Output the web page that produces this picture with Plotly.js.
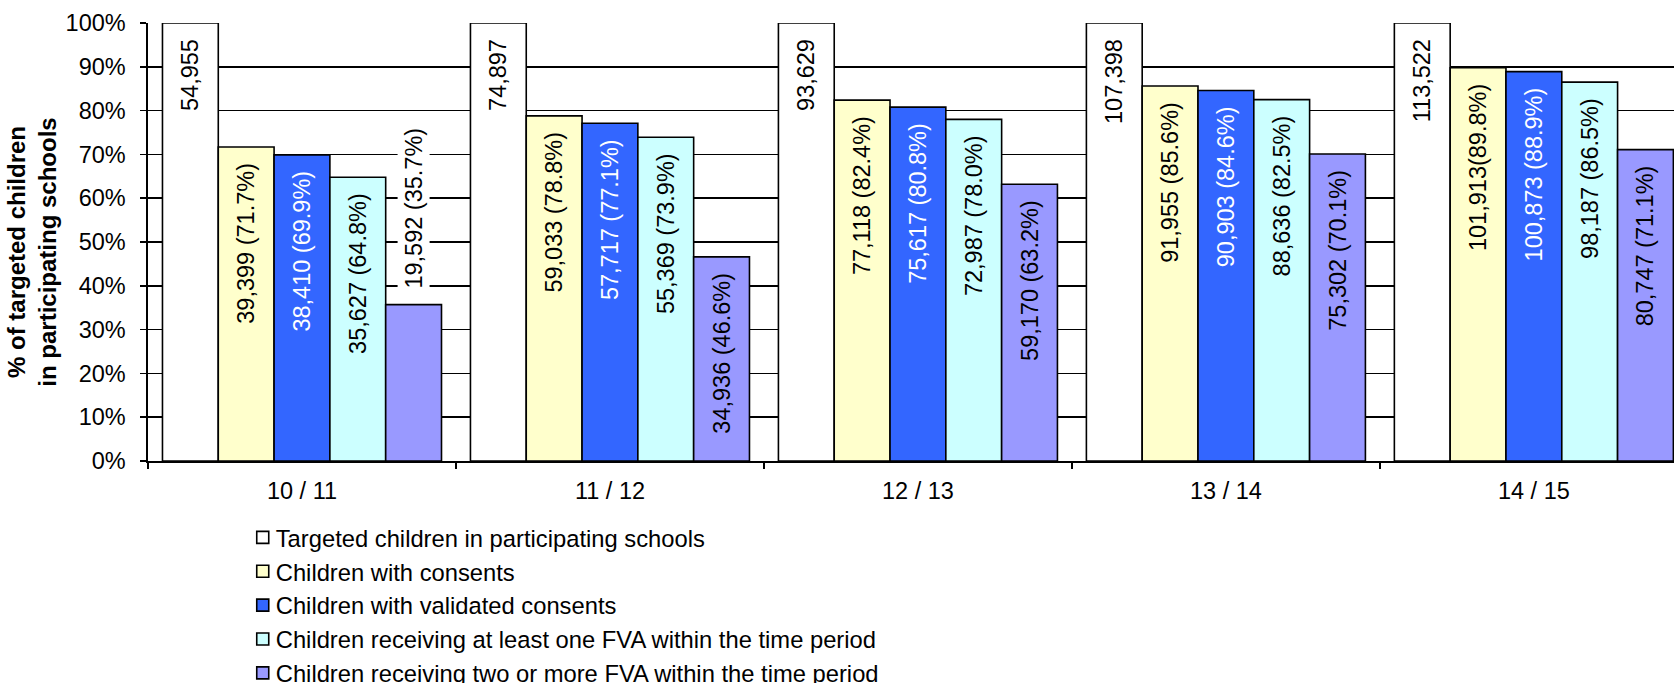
<!DOCTYPE html>
<html>
<head>
<meta charset="utf-8">
<script src="https://cdn.plot.ly/plotly-3.0.1.min.js"></script>
<style>
  html, body { margin: 0; padding: 0; background: #fff; overflow: hidden; }
  #chart { width: 1674px; height: 683px; }
</style>
</head>
<body>
<div id="chart"></div>
<script>
// School years
const years = ['10 / 11', '11 / 12', '12 / 13', '13 / 14', '14 / 15'];

// Targeted children in participating schools (the 100% base of each year)
const targeted = [54955, 74897, 93629, 107398, 113522];

// Children with consents
const consents = [39399, 59033, 77118, 91955, 101913];
const consentsPct = [71.7, 78.8, 82.4, 85.6, 89.8];

// Children with validated consents
const validated = [38410, 57717, 75617, 90903, 100873];
const validatedPct = [69.9, 77.1, 80.8, 84.6, 88.9];

// Children receiving at least one FVA within the time period
const oneFva = [35627, 55369, 72987, 88636, 98187];
const oneFvaPct = [64.8, 73.9, 78.0, 82.5, 86.5];

// Children receiving two or more FVA within the time period
const twoFva = [19592, 34936, 59170, 75302, 80747];
const twoFvaPct = [35.7, 46.6, 63.2, 70.1, 71.1];

// Separator between count and percentage in the consents labels
const consentsSep = [' ', ' ', ' ', ' ', ''];

const seriesNames = [
  'Targeted children in participating schools',
  'Children with consents',
  'Children with validated consents',
  'Children receiving at least one FVA within the time period',
  'Children receiving two or more FVA within the time period'
];
const seriesColors = ['#FFFFFF', '#FFFFCC', '#3366FF', '#CCFFFF', '#9999FF'];
const labelColors = ['#000000', '#000000', '#FFFFFF', '#000000', '#000000'];

const FONT = 'Liberation Sans, Arial, Helvetica, sans-serif';
const PAD = '\u00a0\u00a0';
const fmt = n => n.toLocaleString('en-US');

function labelFor(count, pct, sep) {
  return fmt(count) + (sep === undefined ? ' ' : sep) + '(' + pct.toFixed(1) + '%)';
}

// Each bar's label sits inside at the top end when the bar is tall enough, otherwise above it
function makeTrace(idx, heights, texts) {
  const positions = heights.map(h => (h < 0.4 ? 'outside' : 'inside'));
  const padded = texts.map((t, i) => positions[i] === 'inside' ? t + PAD : PAD + t);
  return {
    type: 'bar',
    name: seriesNames[idx],
    x: years,
    y: heights,
    text: padded,
    textposition: positions,
    insidetextanchor: 'end',
    textangle: -90,
    constraintext: 'none',
    cliponaxis: true,
    textfont: { family: FONT, size: 23.5, color: labelColors[idx] },
    marker: { color: seriesColors[idx], line: { color: '#000', width: 1.6 } },
    legendgroup: 'g' + idx,
    hoverinfo: 'skip'
  };
}

const data = [
  makeTrace(0, targeted.map(() => 1), targeted.map(fmt)),
  makeTrace(1, consentsPct.map(p => p / 100), consents.map((c, i) => labelFor(c, consentsPct[i], consentsSep[i]))),
  makeTrace(2, validatedPct.map(p => p / 100), validated.map((c, i) => labelFor(c, validatedPct[i]))),
  makeTrace(3, oneFvaPct.map(p => p / 100), oneFva.map((c, i) => labelFor(c, oneFvaPct[i]))),
  makeTrace(4, twoFvaPct.map(p => p / 100), twoFva.map((c, i) => labelFor(c, twoFvaPct[i])))
];

const layout = {
  width: 1674,
  height: 683,
  margin: { l: 148, r: 0, t: 23, b: 222, autoexpand: false },
  paper_bgcolor: '#fff',
  plot_bgcolor: '#fff',
  font: { family: FONT, size: 23.5, color: '#000' },
  barmode: 'group',
  bargap: 0.094,
  bargroupgap: 0,
  showlegend: true,
  legend: {
    orientation: 'v',
    x: 0.0575,
    xanchor: 'left',
    y: -0.1244,
    yanchor: 'top',
    traceorder: 'normal',
    tracegroupgap: 0,
    font: { family: FONT, size: 23.75, color: '#000' },
    bgcolor: 'rgba(0,0,0,0)'
  },
  xaxis: {
    type: 'category',
    range: [-0.5, 4.455],
    showline: true,
    linecolor: '#000',
    linewidth: 1.6,
    ticks: 'outside',
    tickson: 'boundaries',
    ticklen: 6,
    tickwidth: 1.6,
    tickcolor: '#000',
    showgrid: false,
    tickfont: { family: FONT, size: 23.5, color: '#000' },
    ticklabelstandoff: 8
  },
  yaxis: {
    range: [0, 1],
    dtick: 0.1,
    tickformat: '.0%',
    showline: true,
    linecolor: '#000',
    linewidth: 1.6,
    ticks: 'outside',
    ticklen: 6,
    tickwidth: 1.6,
    tickcolor: '#000',
    showgrid: true,
    gridcolor: '#000',
    gridwidth: 1.5,
    zeroline: false,
    tickfont: { family: FONT, size: 23.5, color: '#000' },
    ticklabelstandoff: 10,
    title: {
      text: '<b>% of targeted children<br>in participating schools</b>',
      font: { family: FONT, size: 24, color: '#000' },
      standoff: 2
    }
  }
};

const gd = document.getElementById('chart');
Plotly.newPlot(gd, data, layout, { displayModeBar: false, staticPlot: true }).then(() => {
  // White backing behind labels that sit above their bar, so gridlines stop at the text
  const traces = gd.querySelectorAll('.barlayer .trace');
  data.forEach((tr, ti) => {
    const pts = traces[ti] ? traces[ti].querySelectorAll('.point') : [];
    tr.textposition.forEach((pos, pi) => {
      if (pos !== 'outside' || !pts[pi]) return;
      const txt = pts[pi].querySelector('text');
      if (!txt) return;
      const bb = txt.getBBox();
      const rect = document.createElementNS('http://www.w3.org/2000/svg', 'rect');
      rect.setAttribute('x', bb.x);
      rect.setAttribute('y', bb.y - 3);
      rect.setAttribute('width', bb.width + 2);
      rect.setAttribute('height', bb.height + 6);
      rect.setAttribute('fill', '#fff');
      const tf = txt.getAttribute('transform');
      if (tf) rect.setAttribute('transform', tf);
      pts[pi].insertBefore(rect, txt);
    });
  });
  // Legend: swatches close to their text, all five rows shown in full
  gd.querySelectorAll('.legend .legendpoints').forEach(g => {
    g.setAttribute('transform', 'translate(7,0)');
  });
  gd.querySelectorAll('.legend .scrollbox').forEach(g => g.removeAttribute('clip-path'));
  gd.querySelectorAll('.legend .scrollbar').forEach(g => g.setAttribute('display', 'none'));
  // Axis title sits a little below the middle of the value range
  gd.querySelectorAll('.g-ytitle').forEach(g => g.setAttribute('transform', 'translate(0,10)'));
});
</script>
</body>
</html>
